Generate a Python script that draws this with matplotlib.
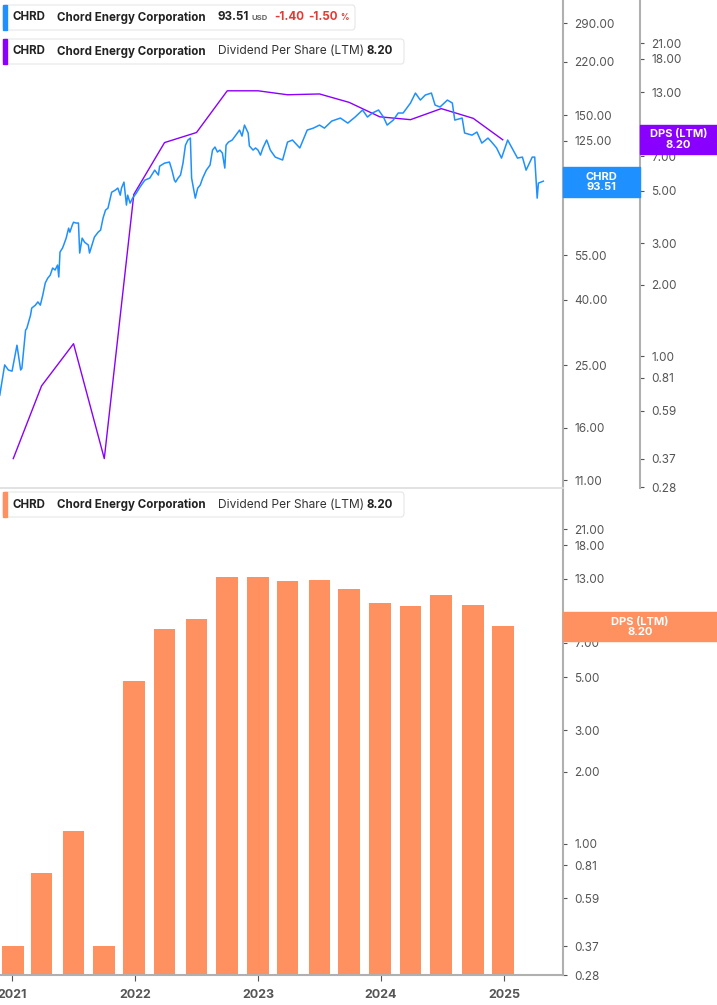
import matplotlib
matplotlib.use("Agg")
import matplotlib.pyplot as plt
from matplotlib.patches import FancyBboxPatch, Rectangle
import numpy as np

plt.rcParams["font.family"] = ["Inter", "DejaVu Sans"]

# ---------------- data ----------------
price_dates = [2020.90, 2020.93, 2020.94, 2020.97, 2021.00, 2021.02, 2021.04, 2021.07, 2021.08, 2021.11,
               2021.12, 2021.15, 2021.16, 2021.19, 2021.21, 2021.23, 2021.25, 2021.27, 2021.29, 2021.31,
               2021.33, 2021.35, 2021.37, 2021.38, 2021.39, 2021.41, 2021.42, 2021.44, 2021.46, 2021.47,
               2021.49, 2021.50, 2021.52, 2021.54, 2021.55, 2021.57, 2021.59, 2021.62, 2021.63, 2021.65,
               2021.67, 2021.70, 2021.72, 2021.74, 2021.76, 2021.78, 2021.81, 2021.84, 2021.86, 2021.88,
               2021.89, 2021.91, 2021.93, 2021.94, 2021.96, 2021.98, 2022.01, 2022.04, 2022.08, 2022.12,
               2022.16, 2022.19, 2022.20, 2022.24, 2022.28, 2022.30, 2022.32, 2022.33, 2022.35, 2022.37,
               2022.39, 2022.41, 2022.43, 2022.45, 2022.46, 2022.49, 2022.51, 2022.53, 2022.55, 2022.58,
               2022.61, 2022.63, 2022.65, 2022.67, 2022.69, 2022.71, 2022.73, 2022.74, 2022.76, 2022.79,
               2022.82, 2022.85, 2022.87, 2022.89, 2022.92, 2022.93, 2022.96, 2022.98, 2023.00, 2023.02,
               2023.04, 2023.07, 2023.08, 2023.10, 2023.14, 2023.20, 2023.24, 2023.28, 2023.34, 2023.40,
               2023.45, 2023.50, 2023.54, 2023.60, 2023.67, 2023.73, 2023.79, 2023.85, 2023.89, 2023.93,
               2023.98, 2024.02, 2024.05, 2024.10, 2024.14, 2024.18, 2024.24, 2024.28, 2024.32, 2024.36,
               2024.41, 2024.44, 2024.48, 2024.54, 2024.58, 2024.60, 2024.66, 2024.68, 2024.74, 2024.78,
               2024.82, 2024.87, 2024.90, 2024.94, 2024.98, 2025.03, 2025.11, 2025.15, 2025.18, 2025.23,
               2025.25, 2025.27, 2025.28, 2025.32]
price_values = [20.2, 23.7, 25.1, 24.2, 24.0, 26.3, 28.9, 24.2, 24.5, 32.2,
                32.6, 35.8, 37.7, 38.5, 39.4, 38.5, 41.4, 45.1, 46.7, 47.7,
                50.2, 49.5, 51.3, 47.1, 56.3, 57.9, 59.2, 62.2, 66.8, 64.9,
                68.3, 69.7, 69.3, 69.3, 55.9, 62.2, 60.4, 59.2, 55.9, 59.2,
                62.7, 64.9, 65.9, 71.8, 76.0, 77.1, 86.4, 87.7, 89.0, 84.6,
                89.0, 92.9, 78.8, 84.6, 79.9, 82.8, 85.8, 89.6, 94.2, 95.6,
                101.2, 97.7, 104.1, 106.4, 107.2, 101.2, 94.2, 92.9, 95.6, 97.7,
                106.4, 121.0, 125.5, 127.3, 95.6, 82.8, 89.0, 90.9, 95.6, 101.2,
                104.9, 116.8, 119.4, 115.2, 116.8, 114.4, 102.7, 121.0, 123.7, 125.5,
                130.0, 134.8, 129.1, 139.7, 132.0, 120.3, 116.8, 118.6, 116.8, 112.7,
                118.6, 125.5, 122.8, 116.8, 111.1, 108.8, 123.7, 125.5, 118.6, 134.8,
                136.7, 139.7, 136.7, 143.8, 146.9, 141.7, 148.0, 155.6, 148.0, 152.3,
                155.6, 148.0, 139.7, 144.8, 152.3, 152.3, 163.6, 175.7, 167.1, 173.2,
                175.7, 161.2, 159.0, 167.1, 163.6, 144.8, 146.9, 132.0, 130.0, 132.9,
                122.8, 127.3, 123.7, 118.6, 110.3, 125.5, 110.3, 111.1, 101.2, 111.1,
                111.1, 82.8, 92.2, 93.51]

dps_dates = [2021.01, 2021.24, 2021.50, 2021.75, 2021.99, 2022.24, 2022.50, 2022.75, 2023.00,
             2023.24, 2023.50, 2023.74, 2023.99, 2024.24, 2024.49, 2024.75, 2024.99]
dps_values = [0.37, 0.75, 1.13, 0.37, 4.82, 7.98, 8.8, 13.2, 13.2,
              12.7, 12.8, 11.8, 10.25, 9.97, 11.1, 10.1, 8.20]

price_ticks = [290, 220, 150, 125, 90, 55, 40, 25, 16, 11]
dps_ticks = [21, 18, 13, 8, 7, 5, 3, 2, 1, 0.81, 0.59, 0.37, 0.28]
year_ticks = [2021, 2022, 2023, 2024, 2025]

BLUE = "#1e90ff"
PURPLE = "#8a00ff"
ORANGE = "#ff9060"
GREY = "#555555"
SPINE = "#b0b0b0"

W, H = 717, 1005
fig = plt.figure(figsize=(W / 100, H / 100), dpi=100)

def fx(px):
    return px / W

def fy(py):
    return 1 - py / H

XMIN, XMAX = 2020.902, 2025.48
RIGHT = 563

def style_axis(ax, side_ticks):
    for s in ["top", "left", "bottom"]:
        ax.spines[s].set_visible(False)
    ax.spines["right"].set_visible(True)
    ax.spines["right"].set_color(SPINE)
    ax.spines["right"].set_linewidth(1.5)
    ax.yaxis.set_ticks_position("right")
    ax.yaxis.set_label_position("right")
    ax.set_yticks(side_ticks)
    ax.set_yticklabels([f"{t:.2f}" for t in side_ticks])
    ax.yaxis.set_minor_locator(matplotlib.ticker.NullLocator())
    ax.tick_params(axis="y", which="both", left=False, labelleft=False, right=True, labelright=True,
                   colors=GREY, labelsize=8.5, length=3, width=0.8, pad=5, direction="out")

# ---------- top panel ----------
ax1 = fig.add_axes([0, fy(488), fx(RIGHT), fy(0) - fy(488)])
ax1.set_yscale("log")
ax1.set_xlim(XMIN, XMAX)
ax1.set_ylim(10.4, 342)
ax1.plot(price_dates, price_values, color=BLUE, lw=1.1, zorder=3)
ax1.set_xticks([])

ax1b = ax1.twinx()
ax1b.set_yscale("log")
ax1b.set_ylim(0.278, 31.9)
ax1b.plot(dps_dates, dps_values, color=PURPLE, lw=1.0, zorder=2)
ax1b.set_xlim(XMIN, XMAX)
style_axis(ax1, price_ticks)
style_axis(ax1b, dps_ticks)
ax1b.spines["right"].set_position(("axes", 640 / RIGHT))
ax1.set_zorder(ax1b.get_zorder() + 1)
ax1.patch.set_visible(False)

# separator
fig.add_artist(plt.Line2D([0, fx(RIGHT)], [fy(488), fy(488)], color="#dddddd", lw=1.2))

# ---------- bottom panel ----------
ax2 = fig.add_axes([0, fy(975), fx(RIGHT), fy(490) - fy(975)])
ax2.set_yscale("log")
ax2.set_xlim(XMIN, XMAX)
ax2.set_ylim(0.28, 30.7)
ax2.bar(dps_dates, dps_values, width=0.177, bottom=0.001, color=ORANGE, zorder=2)
style_axis(ax2, dps_ticks)
ax2.spines["bottom"].set_visible(True)
ax2.spines["bottom"].set_color(SPINE)
ax2.spines["bottom"].set_linewidth(1.5)
ax2.set_xticks(year_ticks)
ax2.set_xticklabels([str(y) for y in year_ticks])
ax2.tick_params(axis="x", colors=GREY, labelsize=9, length=4, width=0.8, pad=6)
for lab in ax2.get_xticklabels():
    lab.set_fontweight("bold")

# ---------- value tags on axes ----------
def tag(x0, y0, x1, y1, color, lines):
    fig.add_artist(Rectangle((fx(x0), fy(y1)), fx(x1) - fx(x0), fy(y0) - fy(y1),
                             color=color, zorder=10))
    fig.text(fx((x0 + x1) / 2), fy((y0 + y1) / 2), lines, color="white", fontsize=8,
             fontweight="bold", ha="center", va="center", linespacing=1.0, zorder=11)

tag(563, 167, 640, 197, BLUE, "CHRD\n93.51")
tag(640, 125, 717, 154, PURPLE, "DPS (LTM)\n8.20")
tag(563, 612, 717, 641, ORANGE, "DPS (LTM)\n8.20")

# ---------- legend boxes ----------
def legend_box(y0, y1, x1, color, parts):
    fig.add_artist(FancyBboxPatch((fx(3), fy(y1)), fx(x1) - fx(3), fy(y0) - fy(y1),
                                  boxstyle="round,pad=0,rounding_size=0.004",
                                  fc="white", ec="#e6e6e6", lw=0.8, zorder=10))
    fig.add_artist(Rectangle((fx(3), fy(y1)), fx(3.5), fy(y0) - fy(y1), color=color, zorder=11))
    yc = fy((y0 + y1) / 2)
    for x, txt, kw in parts:
        fig.text(fx(x), yc, txt, va="center", ha="left", zorder=12, **kw)

dark = dict(color="#222222", fontsize=8.3, fontweight="bold")
darkn = dict(color="#333333", fontsize=8.6)
red = dict(color="#e53935", fontsize=8.3, fontweight="bold")

legend_box(5, 30, 355, BLUE, [
    (13, "CHRD", dark), (57, "Chord Energy Corporation", dark),
    (218, "93.51", dark), (251, "USD", dict(color="#666666", fontsize=5.5, fontweight="bold")),
    (274, "-1.40", red), (308, "-1.50", red),
    (340, "%", dict(color="#e53935", fontsize=6, fontweight="bold")),
])
legend_box(39, 64, 404, PURPLE, [
    (13, "CHRD", dark), (57, "Chord Energy Corporation", dark),
    (218, "Dividend Per Share (LTM)", darkn), (367, "8.20", dark),
])
legend_box(492, 517, 404, ORANGE, [
    (13, "CHRD", dark), (57, "Chord Energy Corporation", dark),
    (218, "Dividend Per Share (LTM)", darkn), (367, "8.20", dark),
])

fig.savefig("out.png", dpi=100)
